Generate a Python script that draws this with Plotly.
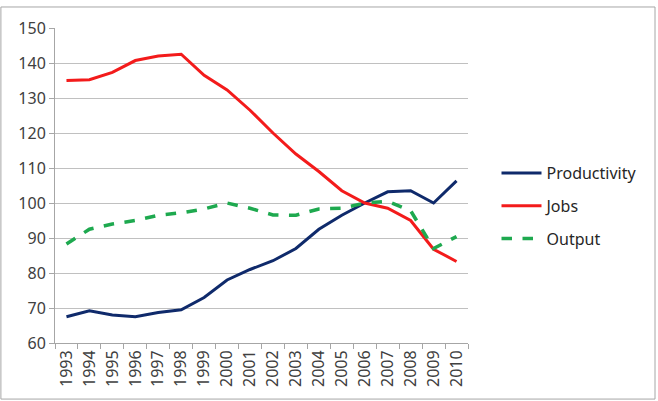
import plotly.graph_objects as go

years = [str(y) for y in range(1993, 2011)]
productivity = [67.5, 69.2, 68.0, 67.5, 68.7, 69.5, 73.0, 78.0, 81.0, 83.5, 87.0, 92.5, 96.5, 100.0, 103.2, 103.5, 100.0, 106.3]
jobs = [135.0, 135.2, 137.3, 140.7, 142.0, 142.5, 136.5, 132.3, 126.5, 120.0, 114.0, 109.0, 103.5, 100.0, 98.5, 95.0, 86.8, 83.3]
output = [88.3, 92.5, 94.0, 95.0, 96.5, 97.2, 98.3, 100.0, 98.5, 96.6, 96.5, 98.3, 98.5, 100.0, 100.5, 97.8, 87.0, 90.4]

fig = go.Figure()
fig.add_trace(go.Scatter(x=years, y=productivity, mode="lines", name="Productivity",
                         line=dict(color="#0f2a6b", width=3), legendgroup="a"))
fig.add_trace(go.Scatter(x=years, y=jobs, mode="lines", name="Jobs",
                         line=dict(color="#f31b1b", width=3), legendgroup="b"))
fig.add_trace(go.Scatter(x=years, y=output, mode="lines", name="Output",
                         line=dict(color="#1ea94f", width=3.5, dash="dash"), legendgroup="c"))

font = "Noto Sans"
fig.update_layout(
    width=658, height=401,
    margin=dict(l=55, r=190, t=28, b=58),
    paper_bgcolor="white", plot_bgcolor="white",
    font=dict(family=font, size=15, color="#404040"),
    showlegend=True,
    legend=dict(x=1.069, y=0.435, xanchor="left", yanchor="middle",
                font=dict(family=font, size=16, color="#262626"),
                traceorder="grouped", tracegroupgap=9, itemwidth=40,
                bgcolor="rgba(0,0,0,0)"),
    xaxis=dict(type="category", tickangle=-90, tickson="boundaries",
               range=[-0.5, len(years) - 0.5],
               ticks="outside", ticklen=5, tickcolor="#a6a6a6",
               showline=True, linecolor="#a6a6a6", linewidth=1,
               showgrid=False, tickfont=dict(size=16, color="#404040")),
    yaxis=dict(range=[60, 150], dtick=10, ticks="outside", ticklen=5,
               tickcolor="#a6a6a6", showline=True, linecolor="#a6a6a6",
               showgrid=True, gridcolor="#c0c0c0", gridwidth=1,
               zeroline=False, tickfont=dict(size=16, color="#404040")),
    shapes=[dict(type="rect", xref="paper", yref="paper",
                 x0=-0.131, x1=1.4528, y0=-0.178, y1=1.0667,
                 line=dict(color="#a6a6a6", width=1), fillcolor="rgba(0,0,0,0)",
                 layer="below")],
)

fig.write_html("out.html")
